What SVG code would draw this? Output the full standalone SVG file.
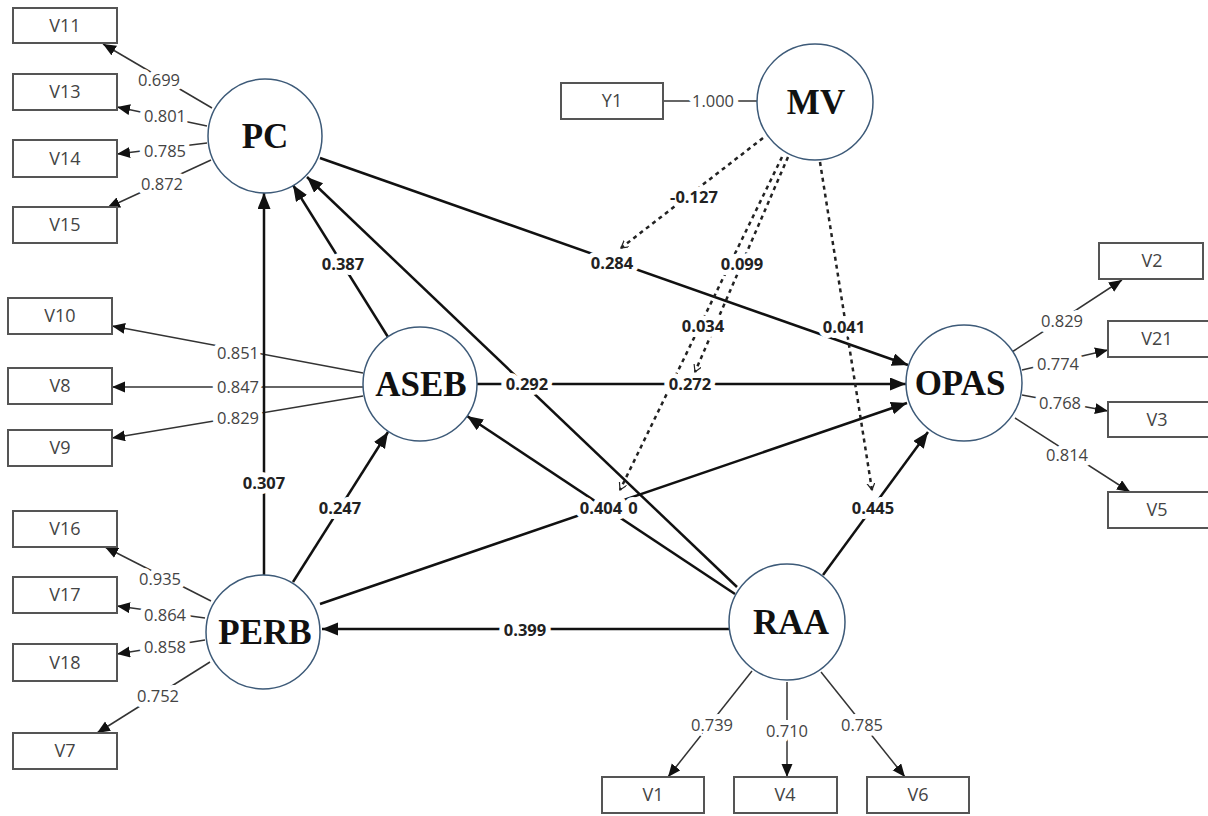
<svg xmlns="http://www.w3.org/2000/svg" width="1208" height="816" viewBox="0 0 1208 816">
  <style>
    .latent circle { fill: #fff; stroke: #3d5a78; stroke-width: 1.5; }
    .latent text { font-family: "Liberation Serif", "Times New Roman", serif; font-weight: bold; font-size: 35px; fill: #111; text-anchor: middle; }
    .ind rect { fill: #fff; stroke: #555; stroke-width: 2; }
    .ind text { font-family: "Open Sans", "Noto Sans", sans-serif; font-size: 18px; fill: #444; text-anchor: middle; }
    .load { stroke: #333; stroke-width: 1.5; fill: none; }
    .path { stroke: #111; stroke-width: 2.5; fill: none; }
    .mod { stroke: #222; stroke-width: 2.5; stroke-dasharray: 4 4; fill: none; }
    .lbl { font-family: "Open Sans", "Noto Sans", sans-serif; font-size: 16.5px; fill: #444; text-anchor: middle; paint-order: stroke; stroke: #fff; stroke-width: 10px; stroke-linejoin: round; }
    .coef { font-family: "Open Sans", "Noto Sans", sans-serif; font-size: 16.5px; font-weight: bold; fill: #222; text-anchor: middle; paint-order: stroke; stroke: #fff; stroke-width: 10px; stroke-linejoin: round; }
  </style>
  <defs>
    <marker id="ahBig" markerUnits="userSpaceOnUse" markerWidth="17" markerHeight="14" refX="16" refY="6.5" orient="auto">
      <path d="M0,0 L16,6.5 L0,13 z" fill="#111"/>
    </marker>
    <marker id="ahSmall" markerUnits="userSpaceOnUse" markerWidth="14" markerHeight="12" refX="13" refY="5.5" orient="auto">
      <path d="M0,0 L13,5.5 L0,11 z" fill="#111"/>
    </marker>
    <marker id="ahOpen" markerUnits="userSpaceOnUse" markerWidth="10" markerHeight="10" refX="7" refY="4" orient="auto">
      <path d="M0,0 L7,4 L0,8" fill="none" stroke="#222" stroke-width="1.2"/>
    </marker>
  </defs>

  <rect width="1208" height="816" fill="#fff"/>

  <!-- measurement model: loadings from constructs to indicators -->
  <g id="loadings">
    <line class="load" x1="212" y1="108" x2="103" y2="44" marker-end="url(#ahSmall)"/>
    <line class="load" x1="207" y1="126" x2="117" y2="107" marker-end="url(#ahSmall)"/>
    <line class="load" x1="207" y1="143" x2="117" y2="154" marker-end="url(#ahSmall)"/>
    <line class="load" x1="211" y1="160" x2="107" y2="208" marker-end="url(#ahSmall)"/>

    <line class="load" x1="363" y1="373" x2="112" y2="326" marker-end="url(#ahSmall)"/>
    <line class="load" x1="363" y1="387" x2="112" y2="387" marker-end="url(#ahSmall)"/>
    <line class="load" x1="363" y1="396" x2="112" y2="438" marker-end="url(#ahSmall)"/>

    <line class="load" x1="211" y1="601" x2="105" y2="547" marker-end="url(#ahSmall)"/>
    <line class="load" x1="205" y1="618" x2="117" y2="606" marker-end="url(#ahSmall)"/>
    <line class="load" x1="205" y1="640" x2="117" y2="654" marker-end="url(#ahSmall)"/>
    <line class="load" x1="210" y1="662" x2="97" y2="733" marker-end="url(#ahSmall)"/>

    <line class="load" x1="1012" y1="352" x2="1122" y2="280" marker-end="url(#ahSmall)"/>
    <line class="load" x1="1022" y1="370" x2="1108" y2="350" marker-end="url(#ahSmall)"/>
    <line class="load" x1="1022" y1="395" x2="1108" y2="411" marker-end="url(#ahSmall)"/>
    <line class="load" x1="1015" y1="418" x2="1130" y2="492" marker-end="url(#ahSmall)"/>

    <line class="load" x1="752" y1="671" x2="668" y2="777" marker-end="url(#ahSmall)"/>
    <line class="load" x1="787" y1="682" x2="787" y2="777" marker-end="url(#ahSmall)"/>
    <line class="load" x1="821" y1="672" x2="905" y2="777" marker-end="url(#ahSmall)"/>

    <line class="load" x1="663" y1="101" x2="757" y2="101"/>

    <text class="lbl" x="159" y="86">0.699</text>
    <text class="lbl" x="165" y="122">0.801</text>
    <text class="lbl" x="165" y="157">0.785</text>
    <text class="lbl" x="162" y="190">0.872</text>

    <text class="lbl" x="238" y="359">0.851</text>
    <text class="lbl" x="238" y="393">0.847</text>
    <text class="lbl" x="238" y="424">0.829</text>

    <text class="lbl" x="160" y="585">0.935</text>
    <text class="lbl" x="165" y="621">0.864</text>
    <text class="lbl" x="165" y="653">0.858</text>
    <text class="lbl" x="158" y="702">0.752</text>

    <text class="lbl" x="1062" y="327">0.829</text>
    <text class="lbl" x="1058" y="370">0.774</text>
    <text class="lbl" x="1060" y="409">0.768</text>
    <text class="lbl" x="1067" y="461">0.814</text>

    <text class="lbl" x="712" y="731">0.739</text>
    <text class="lbl" x="787" y="737">0.710</text>
    <text class="lbl" x="862" y="731">0.785</text>

    <text class="lbl" x="713" y="107">1.000</text>
  </g>

  <!-- structural model and moderating effects -->
  <g id="connectors">
    <line class="path" x1="320" y1="158" x2="908" y2="365" marker-end="url(#ahBig)"/>
    <line class="path" x1="388" y1="337" x2="293" y2="185" marker-end="url(#ahBig)"/>
    <line class="path" x1="264" y1="575" x2="264" y2="193" marker-end="url(#ahBig)"/>
    <line class="path" x1="737" y1="587" x2="307" y2="177" marker-end="url(#ahBig)"/>
    <line class="path" x1="477" y1="384" x2="906" y2="384" marker-end="url(#ahBig)"/>
    <line class="path" x1="293" y1="582" x2="388" y2="432" marker-end="url(#ahBig)"/>
    <line class="path" x1="320" y1="604" x2="907" y2="403" marker-end="url(#ahBig)"/>
    <line class="path" x1="735" y1="594" x2="467" y2="416" marker-end="url(#ahBig)"/>
    <line class="path" x1="729" y1="629" x2="322" y2="629" marker-end="url(#ahBig)"/>
    <line class="path" x1="823" y1="575" x2="928" y2="432" marker-end="url(#ahBig)"/>

    <line class="mod" x1="763" y1="138" x2="621" y2="248" marker-end="url(#ahOpen)"/>
    <line class="mod" x1="788" y1="157" x2="695" y2="372" marker-end="url(#ahOpen)"/>
    <line class="mod" x1="782" y1="157" x2="620" y2="490" marker-end="url(#ahOpen)"/>
    <line class="mod" x1="820" y1="162" x2="872" y2="490" marker-end="url(#ahOpen)"/>

    <text class="coef" x="612" y="269">0.284</text>
    <text class="coef" x="343" y="270">0.387</text>
    <text class="coef" x="264" y="489">0.307</text>
    <text class="coef" x="527" y="390">0.292</text>
    <text class="coef" x="690" y="390">0.272</text>
    <text class="coef" x="340" y="514">0.247</text>
    <text class="coef" x="601" y="514">0.404</text>
    <text class="coef" x="633" y="514">0</text>
    <text class="coef" x="525" y="636">0.399</text>
    <text class="coef" x="873" y="514">0.445</text>

    <text class="coef" x="694" y="203">-0.127</text>
    <text class="coef" x="742" y="270">0.099</text>
    <text class="coef" x="703" y="332">0.034</text>
    <text class="coef" x="844" y="333">0.041</text>
  </g>

  <!-- constructs -->
  <g id="PC" class="latent"><circle cx="265" cy="136" r="57"/><text x="265" y="148">PC</text></g>
  <g id="MV" class="latent"><circle cx="815" cy="102" r="58"/><text x="816" y="114">MV</text></g>
  <g id="ASEB" class="latent"><circle cx="420" cy="384" r="57"/><text x="421" y="396">ASEB</text></g>
  <g id="OPAS" class="latent"><circle cx="964" cy="383" r="58"/><text x="960" y="395">OPAS</text></g>
  <g id="PERB" class="latent"><circle cx="263" cy="632" r="57"/><text x="265" y="644">PERB</text></g>
  <g id="RAA" class="latent"><circle cx="787" cy="622" r="58"/><text x="791" y="634">RAA</text></g>

  <!-- indicators -->
  <g id="V11" class="ind"><rect x="13" y="8" width="104" height="35"/><text x="65" y="32">V11</text></g>
  <g id="V13" class="ind"><rect x="13" y="74" width="104" height="36"/><text x="65" y="98">V13</text></g>
  <g id="V14" class="ind"><rect x="13" y="140" width="104" height="37"/><text x="65" y="165">V14</text></g>
  <g id="V15" class="ind"><rect x="13" y="207" width="104" height="36"/><text x="65" y="231">V15</text></g>

  <g id="V10" class="ind"><rect x="8" y="298" width="104" height="36"/><text x="60" y="322">V10</text></g>
  <g id="V8" class="ind"><rect x="8" y="368" width="104" height="36"/><text x="60" y="392">V8</text></g>
  <g id="V9" class="ind"><rect x="8" y="430" width="104" height="36"/><text x="60" y="454">V9</text></g>

  <g id="V16" class="ind"><rect x="13" y="511" width="104" height="36"/><text x="65" y="535">V16</text></g>
  <g id="V17" class="ind"><rect x="13" y="577" width="104" height="36"/><text x="65" y="601">V17</text></g>
  <g id="V18" class="ind"><rect x="13" y="644" width="104" height="37"/><text x="65" y="669">V18</text></g>
  <g id="V7" class="ind"><rect x="13" y="733" width="104" height="36"/><text x="65" y="757">V7</text></g>

  <g id="Y1" class="ind"><rect x="561" y="83" width="102" height="36"/><text x="612" y="107">Y1</text></g>

  <g id="V2" class="ind"><rect x="1099" y="243" width="104" height="36"/><text x="1152" y="267">V2</text></g>
  <g id="V21" class="ind"><rect x="1108" y="321" width="104" height="36"/><text x="1157" y="345">V21</text></g>
  <g id="V3" class="ind"><rect x="1108" y="402" width="104" height="35"/><text x="1157" y="426">V3</text></g>
  <g id="V5" class="ind"><rect x="1108" y="492" width="104" height="36"/><text x="1157" y="516">V5</text></g>

  <g id="V1" class="ind"><rect x="602" y="777" width="102" height="36"/><text x="653" y="801">V1</text></g>
  <g id="V4" class="ind"><rect x="734" y="777" width="103" height="36"/><text x="785" y="801">V4</text></g>
  <g id="V6" class="ind"><rect x="867" y="777" width="102" height="36"/><text x="918" y="801">V6</text></g>
</svg>
